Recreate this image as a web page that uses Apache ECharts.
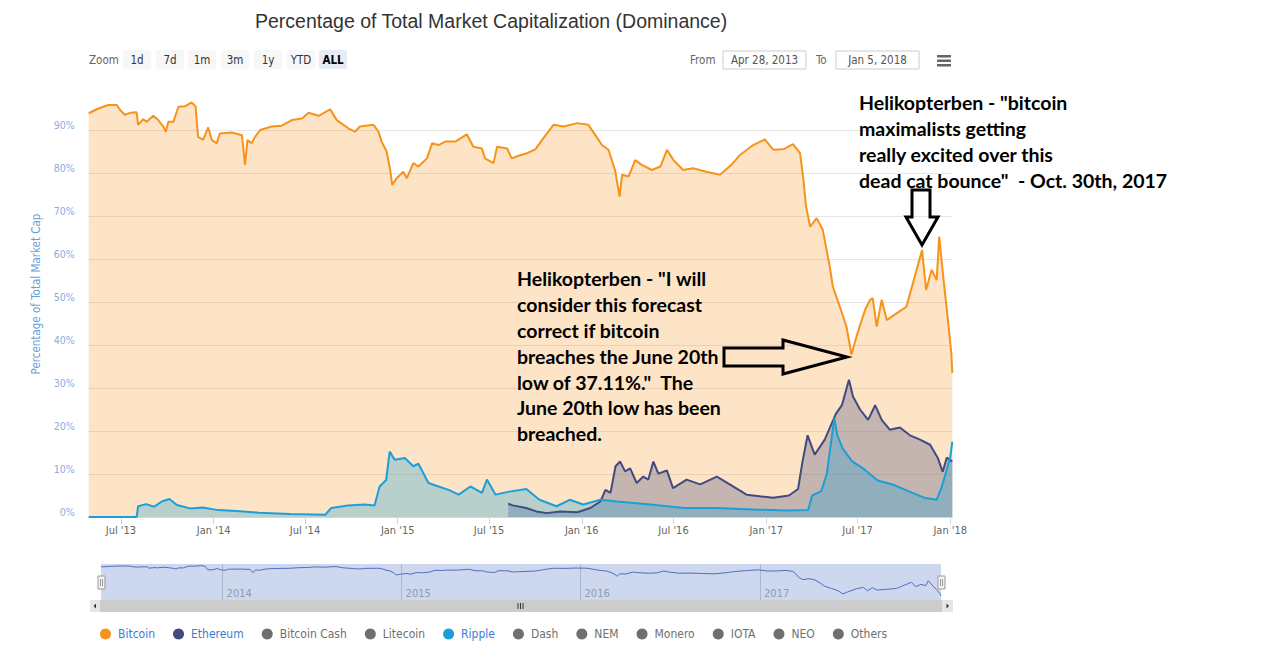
<!DOCTYPE html>
<html><head><meta charset="utf-8">
<script src="https://cdn.jsdelivr.net/npm/echarts@6/dist/echarts.min.js"></script>
<style>html,body{margin:0;padding:0;background:#fff}#c{width:1280px;height:648px}</style>
</head><body><div id="c"></div><script>
// ---------------- DATA ----------------
const btcDates = ['2013-04-28','2013-05-17','2013-06-06','2013-06-23','2013-06-29','2013-07-09','2013-07-19','2013-08-01','2013-08-04','2013-08-14','2013-08-21','2013-09-03','2013-09-13','2013-09-23','2013-09-28','2013-10-03','2013-10-13','2013-10-23','2013-11-05','2013-11-18','2013-11-26','2013-12-01','2013-12-11','2013-12-21','2013-12-28',
'2014-01-07','2014-01-13','2014-02-06','2014-02-26','2014-03-04','2014-03-09','2014-03-17','2014-03-24','2014-04-03','2014-04-26','2014-05-16','2014-06-05','2014-06-25','2014-07-08','2014-07-28','2014-08-20','2014-09-02','2014-09-25','2014-10-08','2014-10-18','2014-11-14','2014-11-24','2014-11-30','2014-12-10','2014-12-17','2014-12-21','2014-12-30',
'2015-01-12','2015-01-19','2015-02-01','2015-02-11','2015-02-28','2015-03-10','2015-03-23','2015-04-05','2015-04-25','2015-05-18','2015-05-31','2015-06-17','2015-06-23','2015-07-10','2015-07-17','2015-08-06','2015-08-15','2015-08-29','2015-09-14','2015-10-01','2015-10-17','2015-11-06','2015-11-26','2015-12-23',
'2016-01-14','2016-01-28','2016-02-10','2016-02-23','2016-03-07','2016-03-16','2016-03-21','2016-04-03','2016-04-16','2016-04-29','2016-05-19','2016-06-05','2016-06-18','2016-07-01','2016-07-20','2016-08-09','2016-09-04','2016-10-01','2016-10-24','2016-11-10','2016-12-06','2016-12-29',
'2017-01-15','2017-02-04','2017-02-23','2017-03-09','2017-03-15','2017-03-21','2017-03-29','2017-04-11','2017-04-23','2017-05-07','2017-05-13','2017-05-27','2017-06-09','2017-06-19','2017-06-29','2017-07-16','2017-07-26','2017-07-31','2017-08-08','2017-08-18','2017-08-28','2017-09-17','2017-10-06','2017-10-19','2017-11-06','2017-11-14','2017-11-25','2017-12-05','2017-12-10','2017-12-18','2017-12-28','2018-01-03','2018-01-05'];
const btcValues = [93.9,95.0,95.8,95.8,94.7,93.5,94.0,94.1,91.2,92.5,91.9,93.3,92.3,90.8,89.6,91.9,91.9,95.4,95.5,96.4,95.5,88.4,87.7,90.6,87.7,
86.9,89.2,89.4,88.8,81.9,87.7,86.9,88.4,90.0,90.8,91.0,92.3,92.7,94.0,93.3,94.8,92.3,90.4,89.6,90.8,91.2,89.6,87.3,85.0,80.7,77.2,78.8,
80.3,78.8,82.3,81.5,83.4,86.9,86.5,87.3,87.3,89.0,86.1,85.7,83.4,82.3,86.1,85.7,83.4,84.0,84.6,85.5,88.1,91.2,90.8,91.6,
91.2,88.8,86.5,85.4,80.7,74.5,79.6,79.2,83.0,81.9,80.7,81.5,85.4,83.0,80.7,81.1,80.3,79.6,81.9,84.2,86.5,87.8,
85.4,85.5,86.7,84.6,79.2,72.2,67.5,69.5,66.8,58.2,53.6,48.9,44.3,37.8,42.0,48.2,50.5,50.9,44.3,50.5,45.8,47.4,48.9,54.4,62.1,52.8,57.5,55.1,65.2,55.9,45.1,38.1,33.5];

const ethDates = ['2015-08-08','2015-08-17','2015-09-13','2015-10-03','2015-10-24','2015-11-19','2015-12-23','2016-01-18','2016-02-07','2016-02-17','2016-02-27','2016-03-08','2016-03-17','2016-03-27','2016-04-06','2016-04-19','2016-05-02','2016-05-12','2016-05-22','2016-06-01','2016-06-18','2016-06-30','2016-07-27','2016-08-23','2016-09-25','2016-10-27','2016-11-23','2016-12-19','2017-01-15','2017-02-15','2017-03-05','2017-03-14','2017-03-24','2017-04-07','2017-04-27','2017-05-19','2017-05-31','2017-06-14','2017-06-22','2017-07-06','2017-07-22','2017-08-05','2017-08-18','2017-09-03','2017-09-23','2017-10-13','2017-11-02','2017-11-22','2017-12-07','2017-12-17','2017-12-25','2018-01-05'];
const ethValues = [3.1,2.7,2.1,1.3,0.9,1.3,1.1,2.1,3.6,6.3,5.6,11.8,12.9,10.6,11.3,7.9,9.4,8.7,12.9,10.1,10.8,6.7,8.7,7.6,9.4,7.1,5.2,4.8,4.5,5.0,6.5,13.0,19.0,14.5,18.0,24.0,26.0,31.9,28.0,25.0,22.6,26.0,22.6,20.3,20.8,19.0,18.0,16.8,13.8,10.5,13.8,12.9];

const xrpDates = ['2013-04-28','2013-08-01','2013-08-04','2013-08-20','2013-09-05','2013-09-20','2013-10-05','2013-10-20','2013-11-15','2013-12-10','2014-01-10','2014-02-15','2014-04-01','2014-06-01','2014-08-10','2014-08-22','2014-09-24','2014-10-27','2014-11-16','2014-11-26','2014-12-09','2014-12-16','2014-12-26','2015-01-15','2015-02-01','2015-02-11','2015-03-03','2015-03-23','2015-04-12','2015-05-02','2015-05-25','2015-06-17','2015-06-27','2015-07-14','2015-08-10','2015-09-13','2015-10-09','2015-11-12','2015-12-08','2016-01-04','2016-02-07','2016-03-11','2016-05-16','2016-07-22','2016-09-25','2016-12-19','2017-02-15','2017-03-25','2017-04-02','2017-04-20','2017-05-01','2017-05-16','2017-05-22','2017-06-01','2017-06-20','2017-07-15','2017-08-10','2017-09-10','2017-10-10','2017-11-10','2017-12-05','2017-12-15','2017-12-25','2018-01-01','2018-01-05'];
const xrpValues = [0,0,2.5,3.0,2.4,3.6,4.2,2.8,2.0,2.2,1.6,1.4,1.0,0.7,0.5,2.1,2.7,2.9,2.7,7.1,8.6,15.2,13.3,13.7,11.8,12.4,7.9,7.1,6.3,5.2,7.1,5.6,8.7,5.2,5.9,6.5,4.0,2.5,4.0,2.9,4.0,3.6,2.9,2.1,2.1,1.7,1.5,1.6,5.0,6.0,10.0,23.0,19.0,16.0,13.0,11.0,8.5,7.5,6.0,4.5,4.0,7.0,11.0,14.0,17.5];

const tickDates = ['2013-07-01','2014-01-01','2014-07-01','2015-01-01','2015-07-01','2016-01-01','2016-07-01','2017-01-01','2017-07-01','2018-01-01'];
const tickLabels = ["Jul '13","Jan '14","Jul '14","Jan '15","Jul '15","Jan '16","Jul '16","Jan '17","Jul '17","Jan '18"];
const navTickDates = ['2014-01-01','2015-01-01','2016-01-01','2017-01-01'];
const navTickLabels = ['2014','2015','2016','2017'];
const legendNames = ['Bitcoin','Ethereum','Bitcoin Cash','Litecoin','Ripple','Dash','NEM','Monero','IOTA','NEO','Others'];
const rangeFrom = '2013-04-28', rangeTo = '2018-01-05';

// ---------------- BUILD ----------------
function ts(s){const p=s.split('-').map(Number);return new Date(p[0],p[1]-1,p[2]).getTime();}
function zip(d,v){return d.map((x,i)=>[ts(x),v[i]]);}
const tickTs = tickDates.map(ts), navTs = navTickDates.map(ts);
const FONT = 'DejaVu Sans Condensed';
const chart = echarts.init(document.getElementById('c'), null, {renderer:'svg'});

const gridColors = [];
for (let i=0;i<=10;i++) gridColors.push(i===10?'rgba(0,0,0,0)':'#e6e6e6');

const colors = {Bitcoin:'#f7931a', Ethereum:'#434a80', Ripple:'#1c9fd8'};
const otherSeries = legendNames.filter(n=>!colors[n]).map(n=>({name:n,type:'line',data:[],itemStyle:{color:'#707070'}}));
const selected = {}; legendNames.forEach(n=>selected[n]=!!colors[n]);

function btn(x,w,label,active){
  return [{type:'rect',shape:{x:x,y:50,width:w,height:19,r:2},style:{fill:active?'#e6ebf5':'#f7f7f7'}},
          {type:'text',x:x+w/2,y:59.5,style:{text:label,fill:active?'#000':'#333',font:(active?'bold ':'')+'11.5px '+FONT,align:'center',verticalAlign:'middle'}}];
}
const gfx = [];
gfx.push({type:'text',x:89,y:59.5,style:{text:'Zoom',fill:'#666',font:'11.5px '+FONT,verticalAlign:'middle'}});
[['1d',123,28],['7d',156,28],['1m',188,28],['3m',221,28],['1y',254,28],['YTD',287,28],['ALL',319,28]].forEach((b,i)=>gfx.push(...btn(b[1],b[2],b[0],i===6)));
gfx.push({type:'text',x:690,y:59.5,style:{text:'From',fill:'#666',font:'11.5px '+FONT,verticalAlign:'middle'}});
gfx.push({type:'rect',shape:{x:723,y:51,width:83,height:18},style:{fill:'#fff',stroke:'#ccc',lineWidth:1}});
gfx.push({type:'text',x:764.5,y:60,style:{text:'Apr 28, 2013',fill:'#555',font:'11.5px '+FONT,align:'center',verticalAlign:'middle'}});
gfx.push({type:'text',x:816,y:59.5,style:{text:'To',fill:'#666',font:'11.5px '+FONT,verticalAlign:'middle'}});
gfx.push({type:'rect',shape:{x:836,y:51,width:83,height:18},style:{fill:'#fff',stroke:'#ccc',lineWidth:1}});
gfx.push({type:'text',x:877.5,y:60,style:{text:'Jan 5, 2018',fill:'#555',font:'11.5px '+FONT,align:'center',verticalAlign:'middle'}});
[55,59.5,64].forEach(y=>gfx.push({type:'rect',shape:{x:937,y:y,width:14,height:2.5},style:{fill:'#666'}}));
// navigator handles
[98,938].forEach(x=>{
  gfx.push({type:'rect',z:50,shape:{x:x,y:576,width:7,height:13},style:{fill:'#f2f2f2',stroke:'#999',lineWidth:1}});
  gfx.push({type:'line',z:51,shape:{x1:x+2.5,y1:579,x2:x+2.5,y2:586},style:{stroke:'#999',lineWidth:1}});
  gfx.push({type:'line',z:51,shape:{x1:x+4.5,y1:579,x2:x+4.5,y2:586},style:{stroke:'#999',lineWidth:1}});
});
// scrollbar
gfx.push({type:'rect',shape:{x:90,y:600,width:863,height:12},style:{fill:'#f2f2f2'}});
gfx.push({type:'rect',shape:{x:100,y:600,width:842,height:12},style:{fill:'#cccccc'}});
gfx.push({type:'rect',shape:{x:90,y:600,width:10,height:12},style:{fill:'#e6e6e6'}});
gfx.push({type:'rect',shape:{x:942,y:600,width:11,height:12},style:{fill:'#e6e6e6'}});
gfx.push({type:'polygon',shape:{points:[[96,603.5],[96,608.5],[93.5,606]]},style:{fill:'#333'}});
gfx.push({type:'polygon',shape:{points:[[946.5,603.5],[946.5,608.5],[949,606]]},style:{fill:'#333'}});
[518,520.5,523].forEach(x=>gfx.push({type:'line',shape:{x1:x,y1:603,x2:x,y2:609},style:{stroke:'#333',lineWidth:1}}));
// annotations
const ANNO = 'bold 19.5px Lato';
gfx.push({type:'text',x:859,y:89,z:100,style:{text:'Helikopterben - "bitcoin\nmaximalists getting\nreally excited over this\ndead cat bounce"  - Oct. 30th, 2017',fill:'#000',font:ANNO,lineHeight:26}});
gfx.push({type:'text',x:517,y:266,z:100,style:{text:'Helikopterben - "I will\nconsider this forecast\ncorrect if bitcoin\nbreaches the June 20th\nlow of 37.11%."  The\nJune 20th low has been\nbreached.',fill:'#000',font:ANNO,lineHeight:25.8}});
gfx.push({type:'polygon',z:100,shape:{points:[[912,190],[930,190],[930,217],[938,217],[922,245],[906,217],[912,217]]},style:{fill:'rgba(0,0,0,0)',stroke:'#000',lineWidth:3}});
gfx.push({type:'polygon',z:100,shape:{points:[[724,348],[783,348],[783,340],[847,357],[783,374],[783,366],[724,366]]},style:{fill:'rgba(0,0,0,0)',stroke:'#000',lineWidth:3}});

function areaSeries(name,d,v,op){
  return {name:name,type:'line',xAxisIndex:0,yAxisIndex:0,data:zip(d,v),showSymbol:false,symbol:'none',
    lineStyle:{color:colors[name],width:2},itemStyle:{color:colors[name]},areaStyle:{color:colors[name],opacity:op}};
}
const lblFmt = (arr,labels)=>v=>{const i=arr.indexOf(v);return i>=0?labels[i]:'';};

chart.setOption({
  animation:false,
  backgroundColor:'#fff',
  title:{text:'Percentage of Total Market Capitalization (Dominance)',left:255,top:11,padding:0,
    textStyle:{fontFamily:'Liberation Sans',fontSize:19.5,fontWeight:'normal',color:'#333'}},
  legend:{data:legendNames,left:95,top:623,icon:'circle',itemWidth:11,itemHeight:11,itemGap:18,
    selected:selected,inactiveColor:'#6f6f6f',
    textStyle:{fontFamily:FONT,fontSize:12,color:'#3a7bd5',padding:[0,0,0,2]}},
  grid:[{left:88.7,right:327.7,top:87,bottom:131},
        {left:101,right:339,top:564,bottom:48,show:true,backgroundColor:'#cdd7ee',borderWidth:0}],
  xAxis:[{type:'value',gridIndex:0,min:ts(rangeFrom),max:ts(rangeTo),
      axisLine:{lineStyle:{color:'#ccd6eb'}},
      axisTick:{customValues:tickTs,length:7,lineStyle:{color:'#ccd6eb'}},
      axisLabel:{customValues:tickTs,color:'#666',fontFamily:FONT,fontSize:11,margin:8,
        formatter:lblFmt(tickTs,tickLabels)},
      splitLine:{show:false}},
    {type:'value',gridIndex:1,min:ts(rangeFrom),max:ts(rangeTo),
      axisLine:{show:false},
      axisTick:{show:false,customValues:navTs},
      axisLabel:{customValues:navTs,inside:true,align:'left',margin:1,padding:[0,0,0,4],color:'#8f9ab3',fontFamily:FONT,fontSize:11,
        formatter:lblFmt(navTs,navTickLabels)},
      splitLine:{show:true,lineStyle:{color:'#aab6d3',width:1}}}],
  yAxis:[{type:'value',gridIndex:0,min:0,max:100,interval:10,
      name:'Percentage of Total Market Cap',nameLocation:'middle',nameGap:47,
      nameTextStyle:{color:'#6a9fd8',fontFamily:FONT,fontSize:11.5,padding:[0,0,0,16]},
      axisLine:{show:false},axisTick:{show:false},
      axisLabel:{color:'#88aee0',fontFamily:FONT,fontSize:10.5,margin:14,verticalAlign:'bottom',
        formatter:v=>v===100?'':v+'%'},
      splitLine:{lineStyle:{color:gridColors,width:1}}},
    {type:'value',gridIndex:1,min:25,max:100,show:false,splitLine:{show:false}}],
  series:[
    areaSeries('Bitcoin',btcDates,btcValues,0.25),
    areaSeries('Ethereum',ethDates,ethValues,0.3),
    areaSeries('Ripple',xrpDates,xrpValues,0.3),
    ...otherSeries,
    {name:'nav',type:'line',xAxisIndex:1,yAxisIndex:1,data:zip(btcDates,btcValues),showSymbol:false,symbol:'none',silent:true,
      lineStyle:{color:'#4f6fc0',width:1}}
  ],
  graphic:gfx
});
</script></body></html>
